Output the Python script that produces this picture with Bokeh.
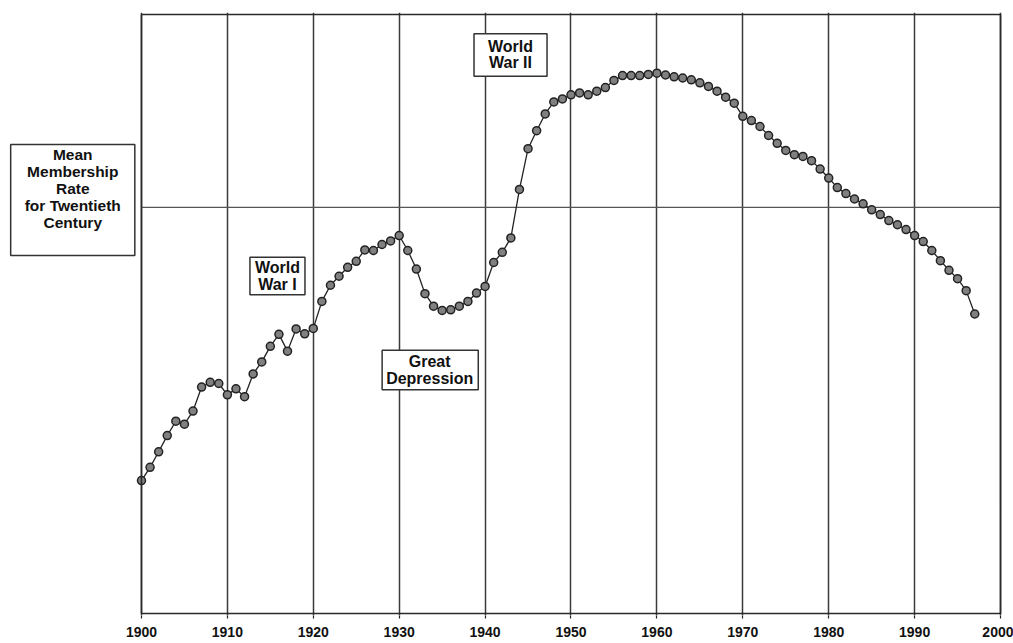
from bokeh.plotting import figure
from bokeh.models import Range1d, FixedTicker, Label, ColumnDataSource, BoxAnnotation
from bokeh.embed import file_html
from bokeh.resources import INLINE

# ---- data (index of membership rate) ----
YEARS = list(range(1900, 1998))
RATE = [22.2, 24.4, 27.0, 29.7, 32.1, 31.6, 33.8, 37.8, 38.6, 38.4,
        36.5, 37.5, 36.2, 40.0, 42.0, 44.6, 46.6, 43.8, 47.5, 46.7,
        47.6, 52.1, 54.8, 56.3, 57.8, 58.8, 60.7, 60.6, 61.6, 62.2,
        63.1, 60.6, 57.5, 53.4, 51.3, 50.6, 50.7, 51.3, 52.1, 53.5,
        54.6, 58.6, 60.3, 62.7, 70.8, 77.6, 80.6, 83.4, 85.4, 85.9,
        86.6, 86.9, 86.6, 87.2, 87.8, 89.0, 89.8, 89.8, 89.8, 90.0,
        90.2, 89.9, 89.6, 89.4, 89.1, 88.6, 88.0, 87.2, 86.2, 85.2,
        83.0, 82.3, 81.3, 79.8, 78.5, 77.3, 76.6, 76.3, 75.6, 74.2,
        72.7, 71.1, 70.1, 69.2, 68.4, 67.4, 66.6, 65.6, 64.9, 64.1,
        63.1, 62.1, 60.6, 58.9, 57.3, 55.9, 53.9, 50.0]
MEAN_RATE = 67.8
TICKS = [1900, 1910, 1920, 1930, 1940, 1950, 1960, 1970, 1980, 1990, 2000]
TICK_LABELS = ["1900", "1910", "1920", "1930", "1940", "1950", "1960",
               "1970", "1980", "1990", "2000"]
Y_MIN, Y_MAX = 0, 100
MEAN_TEXT = "Mean\nMembership\nRate\nfor Twentieth\nCentury"
EVENTS = ["World\nWar I", "World\nWar II", "Great\nDepression"]
EVENT_X = [1915.83, 1942.96, 1933.61]
EVENT_Y = [56.34, 93.24, 40.65]
# padding as (left, right, top, bottom)
EVENT_PAD = [(5, 5, 2, 2), (14, 14, 4, 5), (4, 5, 3, 3)]

FONT = "Liberation Sans"

# the drawing area reaches into the left margin so that the "Mean" box can sit there
p = figure(width=1013, height=643, output_backend="svg", toolbar_location=None,
           x_range=Range1d(1883.59, 2001.51), y_range=Range1d(-0.334, 100.334),
           min_border_left=0, min_border_right=0, min_border_top=12,
           min_border_bottom=28)
p.background_fill_color = "white"
p.border_fill_color = "white"
p.outline_line_color = None

p.yaxis.visible = False
p.ygrid.visible = False
p.xgrid.ticker = FixedTicker(ticks=TICKS)
p.xgrid.grid_line_color = "#3a3a3a"
p.xgrid.grid_line_width = 1.5
p.xgrid.grid_line_alpha = 1.0

ax = p.xaxis[0]
ax.ticker = FixedTicker(ticks=TICKS)
ax.major_label_overrides = {t: s for t, s in zip(TICKS, TICK_LABELS)}
ax.axis_line_color = None
ax.major_tick_line_color = "#222222"
ax.major_tick_line_width = 1.2
ax.major_tick_out = 3
ax.major_tick_in = 0
ax.minor_tick_out = 0
ax.minor_tick_in = 0
ax.major_label_standoff = 8
ax.major_label_text_font = FONT
ax.major_label_text_font_style = "bold"
ax.major_label_text_font_size = "14px"
ax.major_label_text_color = "#111111"

# chart frame (1900-2000 by full value range)
p.add_layout(BoxAnnotation(left=TICKS[0], right=TICKS[-1], bottom=Y_MIN, top=Y_MAX,
                           fill_color=None, fill_alpha=0, line_color="#2a2a2a",
                           line_width=1.6, line_alpha=1.0))

# mean line across the chart
p.segment(x0=[TICKS[0]], y0=[MEAN_RATE], x1=[TICKS[-1]], y1=[MEAN_RATE],
          line_color="#555555", line_width=1.3)

src = ColumnDataSource(dict(x=YEARS, y=RATE))
p.line("x", "y", source=src, line_color="#222222", line_width=1.3)
p.scatter("x", "y", source=src, marker="circle", size=8, fill_color="#808080",
          line_color="#222222", line_width=1.5)

for txt, ex, ey, pad in zip(EVENTS, EVENT_X, EVENT_Y, EVENT_PAD):
    p.add_layout(Label(x=ex, y=ey, text=txt, text_align="center",
                       text_baseline="middle", text_font=FONT,
                       text_font_style="bold", text_font_size="16px",
                       text_line_height=0.98, text_color="#111111",
                       background_fill_color="white",
                       border_line_color="#333333", border_line_width=1.5,
                       padding=pad))

p.add_layout(Label(x=1892.0, y=69.03, text=MEAN_TEXT, text_align="center",
                   text_baseline="middle", text_font=FONT,
                   text_font_style="bold", text_font_size="15.5px",
                   text_line_height=1.0, text_color="#111111",
                   background_fill_color="white",
                   border_line_color="#333333", border_line_width=1.5,
                   padding=(14, 14, 1, 25)))

open("out.html", "w").write(file_html(p, INLINE))
